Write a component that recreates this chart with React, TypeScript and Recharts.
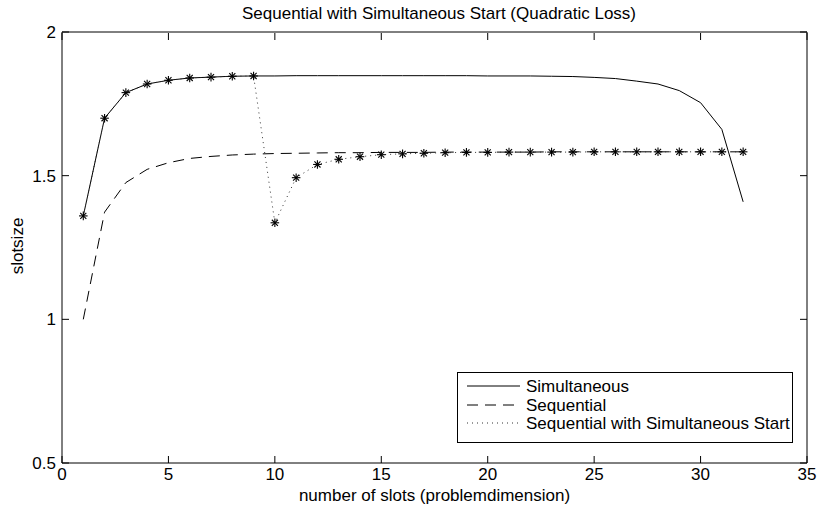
import React from 'react';
import { LineChart, Line, XAxis, YAxis, Legend, Customized } from 'recharts';

const slots = [1,2,3,4,5,6,7,8,9,10,11,12,13,14,15,16,17,18,19,20,21,22,23,24,25,26,27,28,29,30,31,32];
const simultaneous = [1.360,1.700,1.789,1.819,1.832,1.840,1.843,1.846,1.847,1.847,1.848,1.848,1.848,1.848,1.848,1.848,1.848,1.848,1.848,1.847,1.847,1.847,1.846,1.845,1.842,1.838,1.829,1.819,1.796,1.754,1.661,1.409];
const sequential = [1.000,1.373,1.476,1.522,1.545,1.560,1.567,1.572,1.575,1.577,1.578,1.579,1.580,1.580,1.581,1.581,1.581,1.582,1.582,1.582,1.582,1.582,1.583,1.583,1.583,1.583,1.583,1.583,1.583,1.583,1.583,1.583];
const seqSimStart = [1.360,1.700,1.789,1.819,1.832,1.840,1.843,1.846,1.847,1.336,1.493,1.539,1.557,1.566,1.573,1.576,1.578,1.580,1.581,1.581,1.582,1.582,1.582,1.582,1.583,1.583,1.583,1.583,1.583,1.583,1.583,1.583];
const xTicks = [0,5,10,15,20,25,30,35];
const yTicks = [0.5,1,1.5,2];
const seriesNames = ['Simultaneous','Sequential','Sequential with Simultaneous Start'];
const titleText = 'Sequential with Simultaneous Start (Quadratic Loss)';
const xLabelText = 'number of slots (problemdimension)';
const yLabelText = 'slotsize';

const data = slots.map((s, i) => ({ slot: s, sim: simultaneous[i], seq: sequential[i], sss: seqSimStart[i] }));

const FONT = '"Liberation Sans", Arial, Helvetica, sans-serif';
const FS = 17;
const TICK = 7;

const fmt = (v: number) => String(v);

const BottomTick = (p: any) => (
  <g>
    <line x1={p.x} x2={p.x} y1={p.y} y2={p.y - TICK} stroke="#000" strokeWidth={1} />
    <text x={p.x} y={p.y + 17} textAnchor="middle" fontFamily={FONT} fontSize={FS} fill="#000">{fmt(p.payload.value)}</text>
  </g>
);
const LeftTick = (p: any) => (
  <g>
    <line x1={p.x} x2={p.x + TICK} y1={p.y} y2={p.y} stroke="#000" strokeWidth={1} />
    <text x={p.x - 6} y={p.y + 6} textAnchor="end" fontFamily={FONT} fontSize={FS} fill="#000">{fmt(p.payload.value)}</text>
  </g>
);
const TopTick = (p: any) => (
  <line x1={p.x} x2={p.x} y1={p.y + 1} y2={p.y + 1 + TICK} stroke="#000" strokeWidth={1} />
);
const RightTick = (p: any) => (
  <line x1={p.x} x2={p.x - TICK} y1={p.y} y2={p.y} stroke="#000" strokeWidth={1} />
);

const Asterisk = ({ cx, cy }: any) => {
  if (cx == null || cy == null) return null;
  const r = 4.3;
  const d = r * 0.7071;
  return (
    <g stroke="#000" strokeWidth={1.1}>
      <line x1={cx - r} y1={cy} x2={cx + r} y2={cy} />
      <line x1={cx} y1={cy - r} x2={cx} y2={cy + r} />
      <line x1={cx - d} y1={cy - d} x2={cx + d} y2={cy + d} />
      <line x1={cx - d} y1={cy + d} x2={cx + d} y2={cy - d} />
    </g>
  );
};

const Texts = () => (
  <g fontFamily={FONT} fontSize={FS} fill="#000">
    <text x={439} y={19} textAnchor="middle">{titleText}</text>
    <text x={434.5} y={501} textAnchor="middle">{xLabelText}</text>
    <text x={23} y={246} textAnchor="middle" transform="rotate(-90 23 246)">{yLabelText}</text>
  </g>
);

const LegendBox = () => {
  const styles = [
    { dash: undefined, color: '#000' },
    { dash: '11 7', color: '#000' },
    { dash: '1 4', color: '#333' },
  ];
  const rows = [14, 33, 51];
  return (
    <svg width={336} height={71} style={{ display: 'block' }}>
      <rect x={0.5} y={0.5} width={335} height={70} fill="#fff" stroke="#000" strokeWidth={1} />
      {seriesNames.map((n, i) => (
        <g key={n}>
          <line x1={10} x2={63} y1={rows[i]} y2={rows[i]} stroke={styles[i].color} strokeWidth={1} strokeDasharray={styles[i].dash} />
          <text x={69} y={rows[i] + 6} fontFamily={FONT} fontSize={FS} fill="#000">{n}</text>
        </g>
      ))}
    </svg>
  );
};

export default function App() {
  return (
    <div style={{ position: 'absolute', left: 0, top: 0, width: 818, height: 514, background: '#fff' }}>
      <LineChart width={818} height={514} data={data} margin={{ top: 31, right: 10, bottom: 0, left: 0 }}>
        <XAxis xAxisId="b" dataKey="slot" type="number" domain={[0, 35]} ticks={xTicks} interval={0}
          height={51} tickSize={0} tickMargin={0} tickLine={false} axisLine={{ stroke: '#000' }} tick={<BottomTick />} allowDataOverflow />
        <XAxis xAxisId="t" dataKey="slot" type="number" orientation="top" domain={[0, 35]} ticks={xTicks} interval={0}
          height={1} tickSize={0} tickMargin={0} tickLine={false} axisLine={{ stroke: '#000' }} tick={<TopTick />} allowDataOverflow />
        <YAxis yAxisId="l" type="number" domain={[0.5, 2]} ticks={yTicks} interval={0}
          width={62} tickSize={0} tickMargin={0} tickLine={false} axisLine={{ stroke: '#000' }} tick={<LeftTick />} allowDataOverflow />
        <YAxis yAxisId="r" type="number" orientation="right" domain={[0.5, 2]} ticks={yTicks} interval={0}
          width={1} tickSize={0} tickMargin={0} tickLine={false} axisLine={{ stroke: '#000' }} tick={<RightTick />} allowDataOverflow />
        <Line xAxisId="b" yAxisId="l" dataKey="sim" name={seriesNames[0]} type="linear" stroke="#000" strokeWidth={1} dot={false} isAnimationActive={false} />
        <Line xAxisId="b" yAxisId="l" dataKey="seq" name={seriesNames[1]} type="linear" stroke="#000" strokeWidth={1} strokeDasharray="11 7" dot={false} isAnimationActive={false} />
        <Line xAxisId="b" yAxisId="l" dataKey="sss" name={seriesNames[2]} type="linear" stroke="#333" strokeWidth={1} strokeDasharray="1 4"
          dot={(p: any) => <Asterisk key={`a${p.index}`} cx={p.cx} cy={p.cy} />} isAnimationActive={false} />
        <Customized component={Texts} />
        <Legend layout="vertical" align="center" verticalAlign="middle" content={<LegendBox />}
          wrapperStyle={{ position: 'absolute', left: 457, top: 372, width: 336, height: 71 }} />
      </LineChart>
    </div>
  );
}
